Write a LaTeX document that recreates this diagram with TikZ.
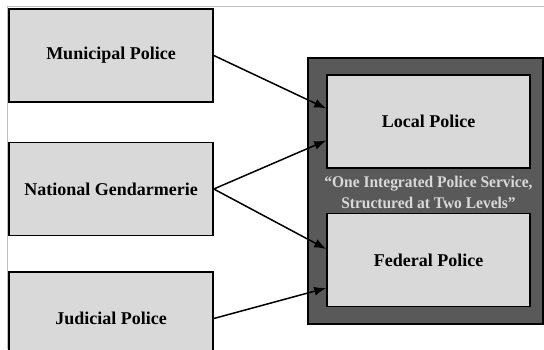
\documentclass[tikz,border=0pt]{standalone}
\usepackage{fontspec}
\setmainfont{Liberation Serif}
\usetikzlibrary{
    arrows.meta,
    calc
}
\definecolor{boxgray}{HTML}{D9D9D9}
\definecolor{darkframe}{HTML}{595959}
\definecolor{edgegray}{HTML}{BFBFBF}
\tikzset {
    agency/.style = {
        draw = black, line width = 1.6pt, fill = boxgray,
        minimum width = 204pt, minimum height = 93pt,
        inner sep = 0pt, font = \fontsize{18}{21}\selectfont\bfseries
    },
    level/.style = {
        draw = black, line width = 1.6pt, fill = boxgray,
        minimum width = 203pt, minimum height = 93pt,
        inner sep = 0pt, font = \fontsize{18}{21}\selectfont\bfseries
    },
    outer frame/.style = {
        draw = black, line width = 1.2pt, fill = darkframe,
        minimum width = 235pt, minimum height = 266pt, inner sep = 0pt
    },
    motto/.style = {
        text = boxgray, align = center, inner sep = 0pt,
        font = \fontsize{16.3}{21}\selectfont\bfseries
    },
    feed/.style = {
        line width = 1.5pt,
        arrows = {-Latex[length = 12pt, width = 9pt]}
    },
    frame line/.style = {draw = edgegray, line width = 0.8pt}
}
\begin{document}
\begin{tikzpicture}[x = 1pt, y = -1pt]
    \useasboundingbox (0, 0) rectangle (544, 349);
    \clip (0, 0) rectangle (544, 349);
    \fill [white] (0, 0) rectangle (544, 349);
    % thin page edge
    \draw [frame line] (544, 6) -- (7, 6) -- (7, 349);
    % left column
    \node (mun) [agency] at (111, 55.5) {Municipal Police};
    \node (gen) [agency] at (111, 189) {National Gendarmerie};
    \node (jud) [agency] at (111, 318.5) {Judicial Police};
    % right column
    \node (frame) [outer frame] at (425.5, 191) {};
    \node (loc) [level] at (428.5, 121.5) {Local Police};
    \node (fed) [level] at (428.5, 260) {Federal Police};
    \node (txt) [motto] at (428.5, 192.5)
        {\scalebox{0.95}[1]{``One Integrated Police Service,}\\
         \scalebox{0.95}[1]{Structured at Two Levels''}};
    % arrows
    \draw [feed] (mun.east) -- ($(loc.west) + (0, -13)$);
    \draw [feed] (gen.east) -- ($(loc.west) + (0, 19)$);
    \draw [feed] (gen.east) -- ($(fed.west) + (0, -11)$);
    \draw [feed] (jud.east) -- ($(fed.west) + (0, 28)$);
\end{tikzpicture}
\end{document}
